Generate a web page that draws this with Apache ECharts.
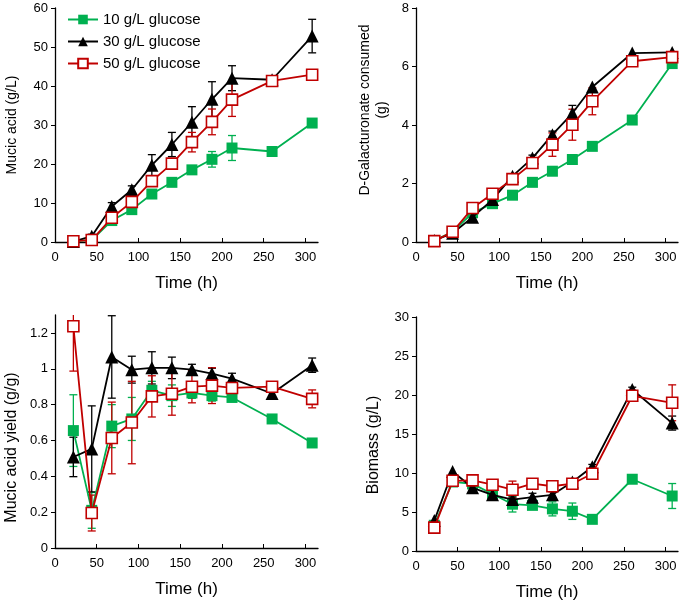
<!DOCTYPE html>
<html><head><meta charset="utf-8">
<script src="https://cdn.jsdelivr.net/npm/echarts@6/dist/echarts.min.js"></script>
<style>html,body{margin:0;padding:0;background:#fff}#c{width:685px;height:602px}</style>
</head><body><div id="c"></div>
<script>
const time = [22,44,68,92,116,140,164,188,212,260,308];
const seriesNames = ['10 g/L glucose','30 g/L glucose','50 g/L glucose'];
const xTicks = [0,50,100,150,200,250,300];

// Panel 1: Mucic acid (g/L)
const ma10 = [0.2,0.5,5.5,8.3,12.3,15.3,18.5,21.2,24.1,23.2,30.5];
const ma10Err = [0,0,0.5,0.5,0.8,0.6,0.8,2.0,3.2,0,0];
const ma30 = [0.1,1.5,9.1,13.4,19.7,25.0,30.7,36.6,42.0,41.6,52.8];
const ma30Err = [0,0.5,1,1,2.7,3.1,4.0,4.5,3.2,0,4.3];
const ma50 = [0.2,0.5,6.2,10.3,15.6,20.1,25.6,30.8,36.5,41.3,42.9];
const ma50Err = [0,0,0.5,0.8,1,1.0,2.5,3.3,4.3,0,0];

// Panel 2: D-Galacturonate consumed (g)
const gal10 = [0.05,0.35,1.0,1.31,1.6,2.04,2.42,2.82,3.27,4.17,6.1];
const gal10Err = [0,0,0,0,0,0,0,0,0,0,0];
const gal30 = [0.05,0.3,0.85,1.45,2.25,2.87,3.67,4.4,5.3,6.46,6.48];
const gal30Err = [0,0,0,0,0.05,0.1,0.12,0.27,0,0,0];
const gal50 = [0.03,0.35,1.16,1.65,2.15,2.7,3.33,4.01,4.81,6.18,6.32];
const gal50Err = [0,0,0,0,0.05,0.15,0.4,0.53,0.46,0,0];

// Panel 3: Mucic acid yield (g/g)
const y10 = [0.655,0.21,0.68,0.72,0.88,0.85,0.865,0.85,0.84,0.72,0.586];
const y10Err = [0.2,0.1,0.12,0.12,0.05,0.06,0.03,0.03,0.02,0,0];
const y30 = [0.508,0.553,1.066,0.995,1.005,1.005,0.995,0.973,0.945,0.862,1.02];
const y30Err = [0.11,0.24,0.23,0.075,0.09,0.06,0.03,0.03,0.03,0,0.04];
const y50 = [1.237,0.195,0.614,0.70,0.846,0.861,0.9,0.906,0.893,0.9,0.832];
const y50Err = [0.25,0.1,0.2,0.23,0.115,0.12,0.09,0.1,0.03,0,0.05];

// Panel 4: Biomass (g/L)
const b10 = [3.3,8.85,8.6,7.3,6.0,5.85,5.4,5.1,4.06,9.2,7.05];
const b10Err = [0,0.3,0.3,0.3,1.0,0.5,0.9,1.05,0.5,0.3,1.6];
const b30 = [3.9,10.2,8.1,7.2,6.6,6.9,7.2,8.85,10.8,20.7,16.4];
const b30Err = [0,0,0,0,0.3,0.5,0.4,0.3,0.3,0.3,0.9];
const b50 = [3.0,9.0,9.06,8.5,7.86,8.63,8.3,8.63,9.9,19.9,19.0];
const b50Err = [0,0,0,0.3,1.1,0.4,0.3,0.5,0.3,0,2.3];

const colors = ['#00b050','#000000','#c00000'];
const FONT = 'Liberation Sans, Arial, sans-serif';

const panels = [
  {vals:[ma10,ma30,ma50], errs:[ma10Err,ma30Err,ma50Err], yMax:60, yInt:10, name:'Mucic acid (g/L)', fs:14, gap:34, pad:[0,0,0,0]},
  {vals:[gal10,gal30,gal50], errs:[gal10Err,gal30Err,gal50Err], yMax:8, yInt:2, name:'D-Galacturonate consumed\n(g)', fs:14, gap:25, pad:[0,0,0,30]},
  {vals:[y10,y30,y50], errs:[y10Err,y30Err,y50Err], yMax:1.3, yInt:0.2, name:'Mucic acid yield (g/g)', fs:16, gap:35, pad:[0,32,0,0]},
  {vals:[b10,b30,b50], errs:[b10Err,b30Err,b50Err], yMax:30, yInt:5, name:'Biomass (g/L)', fs:16, gap:34, pad:[0,22,0,0]}
];

const grids = [
  {left:55, right:367, top:8, bottom:360},
  {left:416, right:7, top:8, bottom:360},
  {left:55, right:367, top:315, bottom:54},
  {left:416, right:7, top:317, bottom:51}
];

function errRender(color){
  return function(params, api){
    const x = api.value(0), y = api.value(1), e = api.value(2);
    if (!e) return null;
    const t = api.coord([x, y + e]), b = api.coord([x, y - e]);
    const w = 4;
    const st = {stroke: color, lineWidth: 1.3};
    return {type:'group', children:[
      {type:'line', shape:{x1:t[0], y1:t[1], x2:b[0], y2:b[1]}, style:st},
      {type:'line', shape:{x1:t[0]-w, y1:t[1], x2:t[0]+w, y2:t[1]}, style:st},
      {type:'line', shape:{x1:b[0]-w, y1:b[1], x2:b[0]+w, y2:b[1]}, style:st}
    ]};
  };
}

const xAxes = [], yAxes = [], series = [];
panels.forEach((p, i) => {
  xAxes.push({
    type:'value', gridIndex:i, min:0, max:315, interval:50,
    name:'Time (h)', nameLocation:'middle', nameGap:33,
    nameTextStyle:{fontSize:17, color:'#000', fontFamily:FONT},
    axisLine:{show:true, onZero:false, lineStyle:{color:'#000', width:1.3}},
    axisTick:{show:true, inside:true, length:4, lineStyle:{color:'#000'}},
    axisLabel:{fontSize:13, color:'#000', fontFamily:FONT, margin:9, showMaxLabel:false},
    splitLine:{show:false}
  });
  yAxes.push({
    type:'value', gridIndex:i, min:0, max:p.yMax, interval:p.yInt,
    name:p.name, nameLocation:'middle', nameGap:p.gap,
    nameTextStyle:{fontSize:p.fs, color:'#000', fontFamily:FONT, padding:p.pad, lineHeight:17},
    axisLine:{show:true, lineStyle:{color:'#000', width:1.3}},
    axisTick:{show:true, inside:false, length:4, lineStyle:{color:'#000'}},
    axisLabel:{fontSize:13, color:'#000', fontFamily:FONT, margin:7, showMaxLabel: p.yMax % p.yInt === 0,
      formatter: v => String(Math.round(v*10)/10)},
    splitLine:{show:false}
  });
  // error bars
  p.vals.forEach((vals, k) => {
    series.push({
      type:'custom', name:'err'+i+'_'+k, xAxisIndex:i, yAxisIndex:i, clip:true, z:1+k,
      renderItem: errRender(colors[k]),
      data: time.map((t, j) => [t, vals[j], p.errs[k][j]]),
      silent:true
    });
  });
  p.vals.forEach((vals, k) => {
    const sym = k===0 ? 'rect' : (k===1 ? 'triangle' : 'rect');
    series.push({
      type:'line', name:seriesNames[k], xAxisIndex:i, yAxisIndex:i, z:5+k,
      data: time.map((t, j) => [t, vals[j]]),
      symbol: sym, symbolSize: k===1 ? 13 : 11,
      showAllSymbol:true,
      lineStyle:{color:colors[k], width:1.8},
      itemStyle:{color: k===2 ? '#ffffff' : colors[k], borderColor:colors[k], borderWidth: k===2 ? 1.6 : 0},
      animation:false
    });
  });
});

const chart = echarts.init(document.getElementById('c'), null, {renderer:'canvas'});
chart.setOption({
  animation:false,
  backgroundColor:'#fff',
  textStyle:{fontFamily:FONT},
  grid: grids,
  xAxis: xAxes,
  yAxis: yAxes,
  legend:{
    data: seriesNames, orient:'vertical', left:62, top:7,
    itemWidth:30, itemHeight:12, itemGap:7,
    textStyle:{fontSize:15, color:'#000', fontFamily:FONT},
    selectedMode:false
  },
  series: series
});
</script></body></html>
